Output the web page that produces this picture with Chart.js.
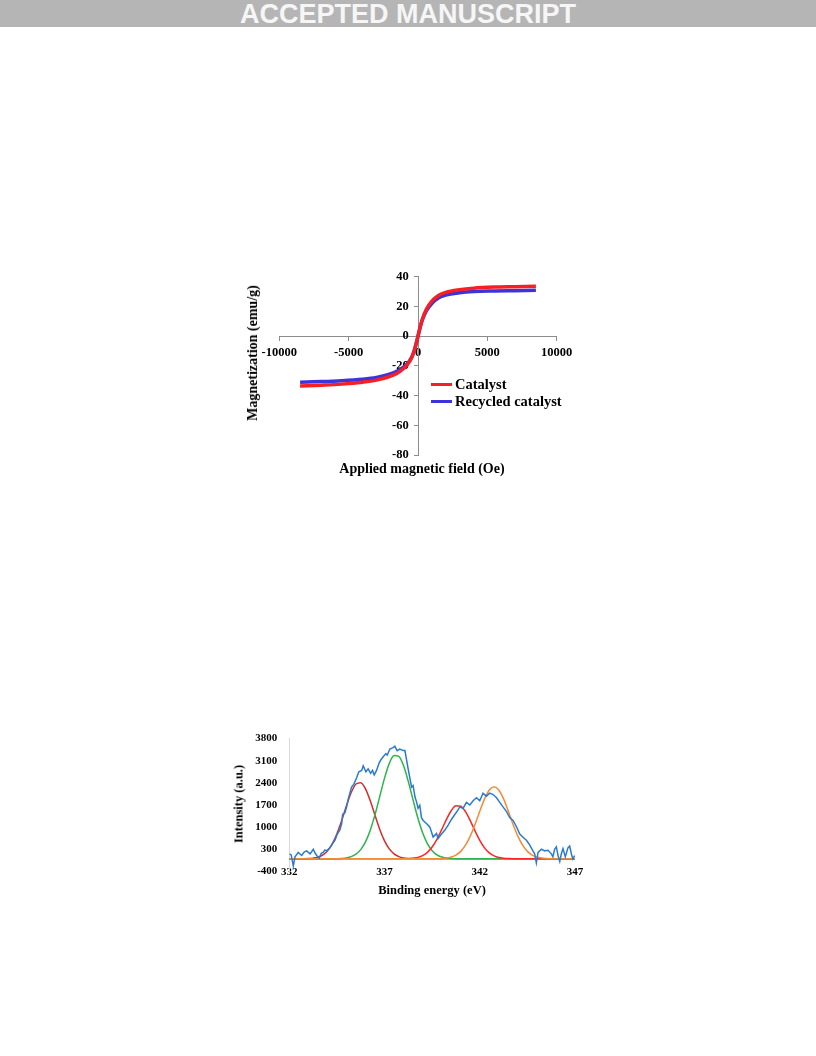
<!DOCTYPE html>
<html>
<head>
<meta charset="utf-8">
<script src="https://cdn.jsdelivr.net/npm/chart.js@4.4.0/dist/chart.umd.min.js"></script>
<style>
  body { margin: 0; background: #fff; }
  #page { position: relative; width: 816px; height: 1056px; overflow: hidden;
          font-family: "Liberation Serif", "Times New Roman", serif; font-weight: bold; color: #000; }
  .banner { position: absolute; left: 0; top: 0; width: 816px; height: 27px; background: #b5b5b5;
            color: #f6f6f6; font-family: "Liberation Sans", Arial, sans-serif; font-weight: bold;
            font-size: 27px; line-height: 28px; text-align: center; }
  canvas { position: absolute; }
  .lbl { position: absolute; white-space: nowrap; transform: translate(-50%, -50%); }
  .vlbl { position: absolute; white-space: nowrap; transform: translate(-50%, -50%) rotate(-90deg); }
  .leg { position: absolute; white-space: nowrap; font-size: 14.5px; line-height: 16px; }
  .swatch { position: absolute; width: 21px; height: 3px; }
</style>
</head>
<body>
<div id="page">
  <div class="banner">ACCEPTED MANUSCRIPT</div>

  <canvas id="magChart" width="360" height="230" style="left:230px; top:260px;"></canvas>
  <div class="vlbl" style="left:253px; top:353px; font-size:14px;">Magnetization (emu/g)</div>
  <div class="lbl" style="left:422px; top:469px; font-size:14px;">Applied magnetic field (Oe)</div>
  <div class="swatch" style="left:431px; top:383px; background:#f51f24;"></div>
  <div class="leg" style="left:455px; top:376px;">Catalyst</div>
  <div class="swatch" style="left:431px; top:400px; background:#3c33dd;"></div>
  <div class="leg" style="left:455px; top:393px;">Recycled catalyst</div>

  <canvas id="xpsChart" width="360" height="170" style="left:230px; top:720px;"></canvas>
  <div class="vlbl" style="left:239px; top:804px; font-size:12.5px;">Intensity (a.u.)</div>
  <div class="lbl" style="left:432px; top:890px; font-size:12.5px;">Binding energy (eV)</div>
</div>

<script>
// magnetization loop
const fieldOe = [-8500, -7000, -5500, -4000, -3000, -2000, -1500, -1000, -600, -300, -100, 0,
                 100, 300, 600, 1000, 1500, 2000, 3000, 4000, 5500, 7000, 8500];
const catalystM = [-33.5, -33, -32.3, -31, -29.6, -27, -25, -21.5, -17, -11, -4, 0,
                   4, 11, 18, 23.5, 27.5, 29.5, 31.3, 32.3, 33, 33.3, 33.6];
const recycledM = [-31, -30.6, -30, -29, -27.8, -25.5, -23.5, -20.5, -16.5, -10.5, -3.8, 0,
                   3.8, 10.5, 17, 22, 25.8, 27.6, 29.2, 30, 30.4, 30.6, 30.8];

// XPS spectrum (blue)
const spectrumEV = [332.0, 332.1, 332.21, 332.3, 332.47, 332.56, 332.65, 332.78, 332.91, 333.09,
  333.18, 333.26, 333.35, 333.44, 333.57, 333.68, 333.78, 333.87, 333.96, 334.13,
  334.28, 334.40, 334.52, 334.66, 334.75, 334.80, 334.92, 335.01, 335.09, 335.18,
  335.27, 335.39, 335.53, 335.65, 335.80, 335.88, 336.02, 336.14, 336.27, 336.37,
  336.46, 336.58, 336.72, 336.81, 336.93, 337.07, 337.14, 337.28, 337.45, 337.54,
  337.66, 337.80, 337.98, 338.07, 338.24, 338.42, 338.50, 338.60, 338.68, 338.76,
  338.85, 338.94, 339.03, 339.20, 339.38, 339.55, 339.73, 339.81, 339.99, 340.16,
  340.34, 340.52, 340.69, 340.86, 340.95, 341.12, 341.30, 341.48, 341.65, 341.83,
  342.00, 342.17, 342.35, 342.52, 342.70, 342.88, 343.05, 343.22, 343.40, 343.57,
  343.75, 343.92, 344.10, 344.27, 344.45, 344.62, 344.79, 344.88, 344.97, 345.06,
  345.24, 345.41, 345.58, 345.76, 345.84, 345.93, 346.02, 346.11, 346.20, 346.28,
  346.37, 346.49, 346.63, 346.72, 346.81, 346.89, 346.98];
const spectrumCounts = [155, 120, -230, 60, 200, 150, 105, 210, 250, 155,
  230, 300, 180, 105, 20, 170, 200, 280, 250, 345,
  490, 590, 780, 920, 1115, 1400, 1450, 1640, 1880, 2075,
  2265, 2360, 2555, 2750, 2795, 2940, 2750, 2845, 2700, 2795,
  2650, 2795, 3035, 3130, 3225, 3325, 3275, 3470, 3515, 3560,
  3420, 3470, 3420, 3420, 2845, 2265, 2315, 1950, 1800, 1595,
  1690, 1300, 1210, 1115, 1000, 685, 800, 640, 780, 900,
  1065, 1250, 1400, 1545, 1640, 1590, 1785, 1700, 1835, 1930,
  1835, 2070, 1980, 2075, 2030, 1930, 1785, 1640, 1500, 1305,
  1210, 1020, 780, 680, 585, 440, 250, 155, -130, 200,
  300, 250, 270, 155, 60, 300, 375, 100, -85, 150,
  320, 60, 345, 400, 150, -10, 100];

// fitted components, sampled every 0.25 eV
const fitEV = [332, 332.25, 332.5, 332.75, 333, 333.25, 333.5, 333.75, 334, 334.25,
  334.5, 334.75, 335, 335.25, 335.5, 335.75, 336, 336.25, 336.5, 336.75,
  337, 337.25, 337.5, 337.75, 338, 338.25, 338.5, 338.75, 339, 339.25,
  339.5, 339.75, 340, 340.25, 340.5, 340.75, 341, 341.25, 341.5, 341.75,
  342, 342.25, 342.5, 342.75, 343, 343.25, 343.5, 343.75, 344, 344.25,
  344.5, 344.75, 345, 345.25, 345.5, 345.75, 346, 346.25, 346.5, 346.75, 347];
const peak1 = [0, 0, 0, 1, 7, 20, 50, 117, 245, 460,
  786, 1207, 1673, 2093, 2363, 2407, 2212, 1836, 1374, 928,
  565, 311, 154, 69, 28, 10, 3, 0, 0, 0,
  0, 0, 0, 0, 0, 0, 0, 0, 0, 0,
  0, 0, 0, 0, 0, 0, 0, 0, 0, 0,
  0, 0, 0, 0, 0, 0, 0, 0, 0, 0, 0];
const peak2 = [0, 0, 0, 0, 0, 0, 0, 0, 0, 0,
  3, 9, 27, 66, 145, 290, 536, 905, 1395, 1972,
  2549, 3016, 3267, 3238, 2938, 2439, 1853, 1289, 821, 478,
  255, 124, 56, 23, 8, 3, 0, 0, 0, 0,
  0, 0, 0, 0, 0, 0, 0, 0, 0, 0,
  0, 0, 0, 0, 0, 0, 0, 0, 0, 0, 0];
const peak3 = [0, 0, 0, 0, 0, 0, 0, 0, 0, 0,
  0, 0, 0, 0, 0, 0, 0, 0, 0, 0,
  0, 0, 0, 0, 0, 0, 17, 44, 99, 201,
  370, 614, 920, 1245, 1519, 1673, 1663, 1491, 1207, 881,
  581, 345, 185, 90, 39, 16, 5, 0, 0, 0,
  0, 0, 0, 0, 0, 0, 0, 0, 0, 0, 0];
const peak4 = [0, 0, 0, 0, 0, 0, 0, 0, 0, 0,
  0, 0, 0, 0, 0, 0, 0, 0, 0, 0,
  0, 0, 0, 0, 0, 0, 0, 0, 0, 0,
  0, 0, 0, 22, 53, 117, 234, 428, 714, 1084,
  1501, 1893, 2177, 2280, 2177, 1893, 1501, 1084, 714, 428,
  234, 117, 53, 22, 8, 3, 0, 0, 0, 0, 0];

function pts(xs, ys) {
  return xs.map((x, i) => ({ x: x, y: ys[i] }));
}

const serif = 'Liberation Serif';

new Chart(document.getElementById('magChart'), {
  type: 'line',
  data: {
    datasets: [{
      label: 'Catalyst',
      data: pts(fieldOe, catalystM),
      borderColor: '#f51f24',
      borderWidth: 3.5,
      pointRadius: 0,
      cubicInterpolationMode: 'monotone'
    }, {
      label: 'Recycled catalyst',
      data: pts(fieldOe, recycledM),
      borderColor: '#3c33dd',
      borderWidth: 3.5,
      pointRadius: 0,
      cubicInterpolationMode: 'monotone'
    }]
  },
  options: {
    responsive: false,
    animation: false,
    layout: { padding: { left: 49.3, right: 33.3, top: 16.7, bottom: 35 } },
    plugins: { legend: { display: false }, tooltip: { enabled: false } },
    scales: {
      x: {
        type: 'linear',
        min: -10000,
        max: 10000,
        position: { y: 0 },
        grid: { drawOnChartArea: false, tickLength: 4, color: '#8c8c8c' },
        border: { color: '#8c8c8c' },
        ticks: {
          stepSize: 5000,
          maxRotation: 0,
          padding: 5,
          color: '#000',
          font: { family: serif, size: 12.5, weight: 'bold' },
          callback: v => String(v)
        }
      },
      y: {
        type: 'linear',
        min: -80,
        max: 40,
        position: { x: 0 },
        grid: { drawOnChartArea: false, tickLength: 4, color: '#8c8c8c' },
        border: { color: '#8c8c8c' },
        ticks: {
          stepSize: 20,
          color: '#000',
          font: { family: serif, size: 12.5, weight: 'bold' },
          // labels sit right on the axis when it is placed by value, so pad them
          callback: v => String(v) + '   '
        }
      }
    }
  }
});

new Chart(document.getElementById('xpsChart'), {
  type: 'line',
  data: {
    datasets: [{
      label: 'spectrum',
      data: pts(spectrumEV, spectrumCounts),
      borderColor: '#2a7bd0',
      borderWidth: 1.5,
      pointRadius: 0,
      tension: 0
    }, {
      label: 'peak 4',
      data: pts(fitEV, peak4),
      borderColor: '#f28c38',
      borderWidth: 1.5,
      pointRadius: 0,
      cubicInterpolationMode: 'monotone'
    }, {
      label: 'peak 3',
      data: pts(fitEV, peak3),
      borderColor: '#ff2424',
      borderWidth: 1.5,
      pointRadius: 0,
      cubicInterpolationMode: 'monotone'
    }, {
      label: 'peak 2',
      data: pts(fitEV, peak2),
      borderColor: '#2fb34a',
      borderWidth: 1.5,
      pointRadius: 0,
      cubicInterpolationMode: 'monotone'
    }, {
      label: 'peak 1',
      data: pts(fitEV, peak1),
      borderColor: '#d42c2c',
      borderWidth: 1.5,
      pointRadius: 0,
      cubicInterpolationMode: 'monotone'
    }]
  },
  options: {
    responsive: false,
    animation: false,
    layout: { padding: { left: 0, right: 15, top: 11.7, bottom: 11.7 } },
    plugins: { legend: { display: false }, tooltip: { enabled: false } },
    scales: {
      x: {
        type: 'linear',
        min: 332,
        max: 347,
        position: { y: -400 },
        grid: { display: false, drawTicks: false },
        border: { display: false },
        ticks: {
          stepSize: 5,
          maxRotation: 0,
          padding: -6,
          color: '#000',
          font: { family: serif, size: 11, weight: 'bold' }
        }
      },
      y: {
        type: 'linear',
        min: -400,
        max: 3800,
        grid: { drawOnChartArea: false, drawTicks: false },
        border: { color: '#d9d9d9' },
        ticks: {
          stepSize: 700,
          padding: 12,
          color: '#000',
          font: { family: serif, size: 11, weight: 'bold' },
          callback: v => String(v)
        },
        afterFit: s => { s.width = 59.3; }
      }
    }
  }
});
</script>
</body>
</html>
